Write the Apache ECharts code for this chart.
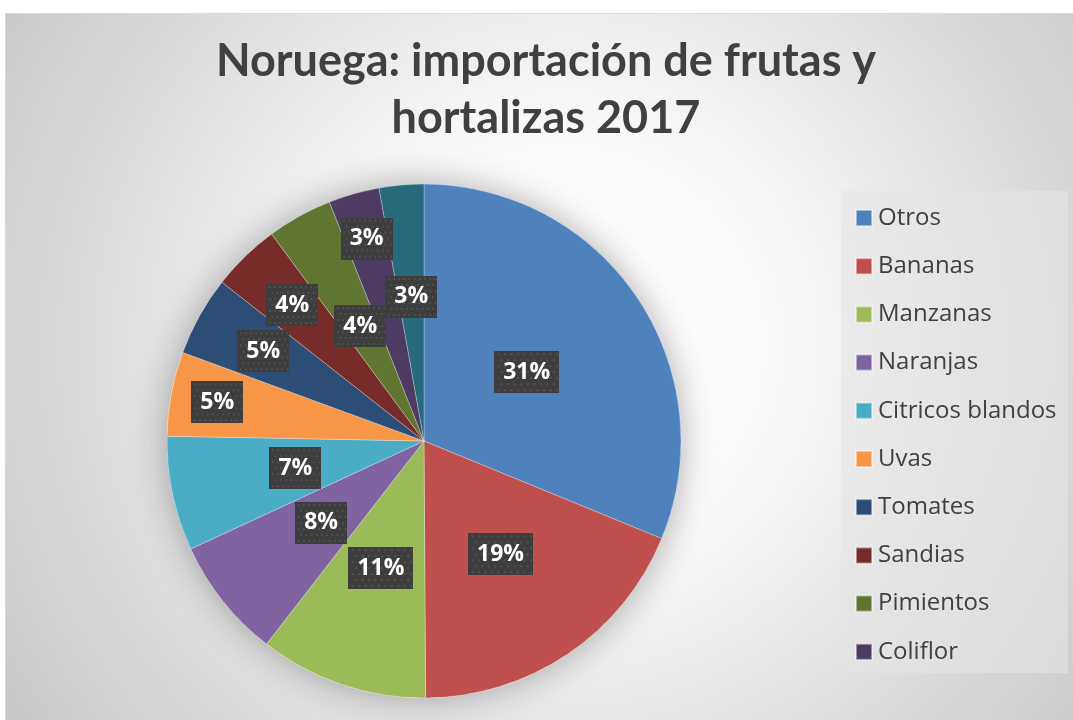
<!DOCTYPE html>
<html lang="es">

<head>
  <meta charset="UTF-8">
  <title>Noruega: importación de frutas y hortalizas 2017</title>
  <style>
    html, body {
      margin: 0;
      width: 100%;
      height: 100%;
      background: #fff;
      overflow: hidden;
    }

    .frame {
      position: absolute;
      left: 5px;
      top: 13px;
      width: 1090px;
      height: 730px;
      border-left: 1px solid #d9d9d9;
      border-top: 1px solid #d9d9d9;
      background: radial-gradient(circle 680px at 560px 330px, #ffffff 0%, #fcfcfc 28%, #c6c6c6 100%);
    }

    .chart {
      position: absolute;
      left: 0;
      top: 0;
      width: 1073px;
      height: 720px;
    }
  </style>
</head>

<body>
  <div class="frame"></div>
  <div id="chart" class="chart"></div>

  <script src="https://cdn.jsdelivr.net/npm/echarts@6/dist/echarts.min.js"></script>
  <script>
    // datos (porcentaje del total importado)
    var categorias = ['Otros', 'Bananas', 'Manzanas', 'Naranjas', 'Citricos blandos', 'Uvas',
      'Tomates', 'Sandias', 'Pimientos', 'Coliflor', 'Lechugas'];
    var valores = [31.2, 18.7, 10.6, 7.6, 7.2, 5.3, 5.0, 4.3, 4.1, 3.2, 2.8];
    var colores = ['#4F81BD', '#C0504D', '#9BBB59', '#8064A2', '#4BACC6', '#F79646',
      '#2C4D75', '#772C2A', '#5F7530', '#4D3B62', '#276A7C'];
    // la leyenda solo muestra las 10 primeras
    var leyenda = categorias.slice(0, 10);

    // distancia de cada etiqueta al centro (fraccion del radio)
    var posEtiqueta = [0.47, 0.52, 0.51, 0.50, 0.50, 0.80, 0.70, 0.72, 0.50, 0.80, 0.55];

    var cx = 424, cy = 441, radio = 257;

    // textura de puntos para el fondo de las etiquetas
    var patron = document.createElement('canvas');
    patron.width = 60;
    patron.height = 42;
    var pctx = patron.getContext('2d');
    pctx.fillStyle = '#3d3d3d';
    pctx.fillRect(0, 0, 60, 42);
    pctx.fillStyle = '#525252';
    for (var py = 2; py < 42; py += 6) {
      for (var px = 2; px < 60; px += 6) {
        pctx.fillRect(px + ((py / 6) % 2) * 3, py, 2, 2);
      }
    }

    var datos = [];
    for (var i = 0; i < categorias.length; i++) {
      datos.push({
        name: categorias[i],
        value: valores[i],
        itemStyle: { color: colores[i] }
      });
    }

    var myChart = echarts.init(document.getElementById('chart'));

    var option = {
      animation: false,
      title: {
        text: 'Noruega: importación de frutas y\nhortalizas 2017',
        left: 541,
        top: 28,
        textAlign: 'center',
        textStyle: {
          fontFamily: 'Lato',
          fontWeight: 'bold',
          fontSize: 45,
          lineHeight: 57,
          color: '#404040'
        }
      },
      graphic: [
        {
          // caja de la leyenda
          type: 'rect',
          z: -1,
          shape: { x: 841, y: 191, width: 227, height: 482 },
          style: { fill: 'rgba(228,228,228,0.6)' },
          silent: true
        },
        {
          // sombra suave del pastel
          type: 'circle',
          z: -1,
          shape: { cx: cx, cy: cy, r: radio },
          style: {
            fill: '#ffffff',
            shadowBlur: 36,
            shadowColor: 'rgba(0,0,0,0.32)'
          },
          silent: true
        }
      ],
      legend: {
        data: leyenda,
        orient: 'vertical',
        left: 855,
        top: 206,
        padding: 0,
        itemWidth: 16,
        itemHeight: 16,
        itemGap: 24.2,
        icon: 'rect',
        textStyle: {
          fontFamily: 'Open Sans',
          fontSize: 24,
          lineHeight: 24,
          color: '#404040',
          padding: [0, 0, 0, 1]
        }
      },
      series: [{
        type: 'pie',
        center: [cx, cy],
        radius: radio,
        startAngle: 90,
        clockwise: true,
        avoidLabelOverlap: false,
        silent: true,
        itemStyle: {
          borderColor: 'rgba(255,255,255,0.45)',
          borderWidth: 0.6
        },
        label: {
          show: true,
          position: 'inside',
          formatter: function (p) {
            return Math.round(p.percent) + '%';
          },
          fontFamily: 'Open Sans',
          fontWeight: 'bold',
          fontSize: 23,
          lineHeight: 25,
          color: '#fff',
          padding: [9, 9, 8, 9],
          backgroundColor: { image: patron },
          shadowColor: 'rgba(0,0,0,0.45)',
          shadowBlur: 6,
          shadowOffsetX: 5,
          shadowOffsetY: 5
        },
        labelLine: { show: false },
        labelLayout: function (params) {
          var r = params.labelRect;
          var lx = r.x + r.width / 2;
          var ly = r.y + r.height / 2;
          var k = posEtiqueta[params.dataIndex] / 0.5 - 1;
          return { dx: (lx - cx) * k, dy: (ly - cy) * k };
        },
        data: datos
      }]
    };

    myChart.setOption(option);

    window.addEventListener('resize', function () {
      myChart.resize();
    });
  </script>
</body>

</html>
